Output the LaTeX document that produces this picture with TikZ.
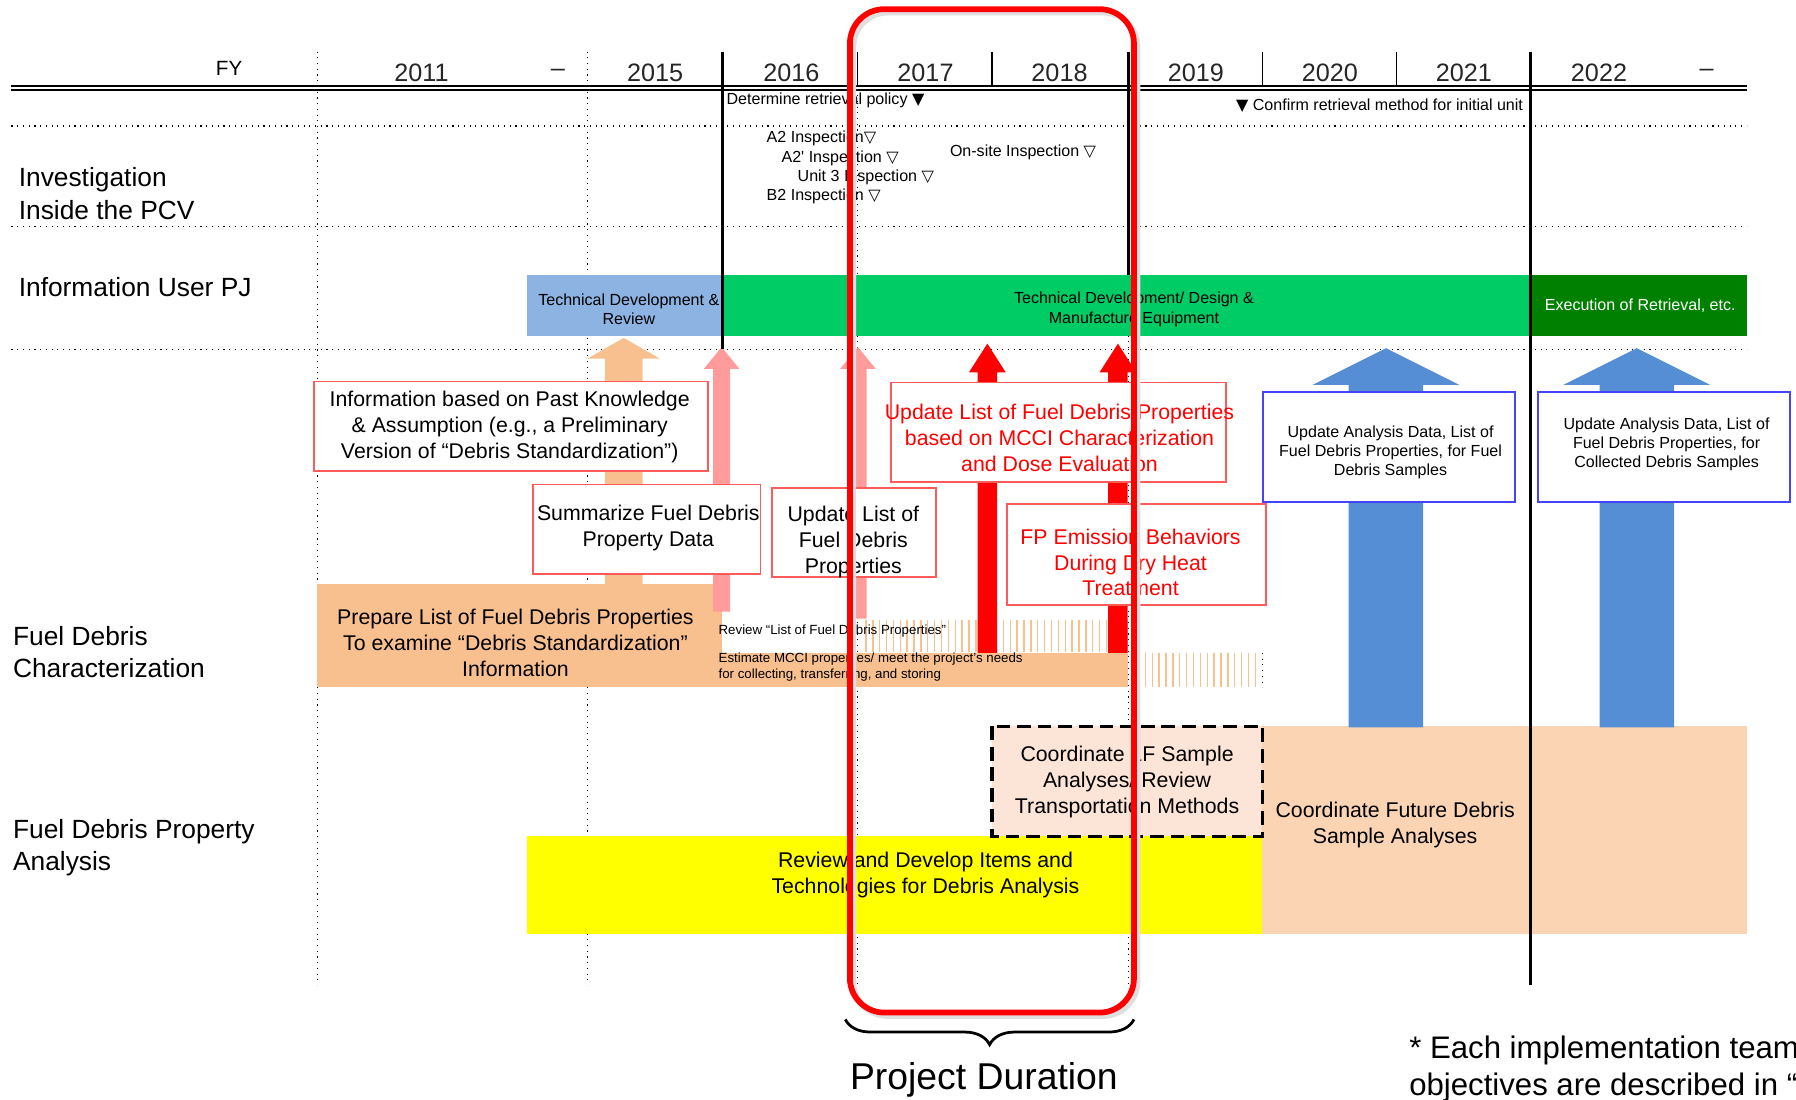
\documentclass[tikz,border=0pt]{standalone}
\usepackage{fontspec}
\setmainfont{Liberation Sans}
\newfontfamily\symfont{DejaVu Sans}
\usetikzlibrary{decorations.pathreplacing}

\definecolor{bandblue}{HTML}{8DB3E2}
\definecolor{bandgreen}{HTML}{00CC66}
\definecolor{banddark}{HTML}{008000}
\definecolor{peach}{HTML}{F9C08F}
\definecolor{peachlt}{HTML}{FBD4B4}
\definecolor{peachpale}{HTML}{FCE4D6}
\definecolor{pinkarr}{HTML}{FF9B9B}
\definecolor{bluearr}{HTML}{558ED5}
\definecolor{boxred}{HTML}{FF5B5B}
\definecolor{boxblue}{HTML}{4444FF}
\definecolor{yelband}{HTML}{FFFF00}

% upward block arrow: colour, x, tip y, head base y, bottom y, half shaft, half head
\newcommand{\blockup}[7]{%
  \fill[#1] (#2,#3) -- ({#2+#7},#4) -- ({#2+#6},#4) -- ({#2+#6},#5)
    -- ({#2-#6},#5) -- ({#2-#6},#4) -- ({#2-#7},#4) -- cycle;}

\begin{document}
\begin{tikzpicture}[x=0.5pt,y=-0.5pt,font=\fontsize{9.3}{11.3}\selectfont]
% Roadmap chart, laid out on a 1568 x 960 grid with y running downwards.
\useasboundingbox (0,0) rectangle (1568,960);

\tikzset{
  dots/.style={black,dotted,line width=0.5pt},
  fyline/.style={black,line width=1.2pt},
  fythin/.style={black,line width=0.5pt},
  year/.style={font=\fontsize{11}{13}\selectfont,text=black!85,inner sep=0pt},
  rowlab/.style={font=\fontsize{11.5}{14}\selectfont,anchor=west,align=left,inner sep=0pt},
  smalltxt/.style={font=\fontsize{7}{8.4}\selectfont,inner sep=0pt},
  notetxt/.style={font=\fontsize{5.8}{7}\selectfont,inner sep=0pt,anchor=west,align=left},
  txt/.style={align=center,inner sep=0pt},
  redbox/.style={draw=boxred,line width=0.8pt,fill=white},
  bluebox/.style={draw=boxblue,line width=0.8pt,fill=white},
  stripe/.style={draw=peach,line width=0.6pt},
  dashbox/.style={draw=black,line width=1.4pt,dash pattern=on 6pt off 3pt,fill=peachpale}
}

% Dotted grid.
\foreach \x in {277,513}{
  \draw[dots] (\x,45) -- (\x,860);
}
\draw[dots] (749,78) -- (749,860);
\draw[dots] (985,293) -- (985,860);
\foreach \y in {110,198,305}{
  \draw[dots] (10,\y) -- (1525,\y);
}

% Fiscal year header.
\draw[black,line width=0.8pt] (10,75) -- (1525,75);
\draw[black,line width=0.8pt] (10,78.5) -- (1525,78.5);
\foreach \x in {749,866,1102,1219}{
  \draw[fythin] (\x,45) -- (\x,75);
}
\node[font=\fontsize{9}{11}\selectfont,inner sep=0pt] (fy) at (200,60) {FY};
\foreach \x/\lab in {368/2011,487/\textendash,572/2015,691/2016,808/2017,925/2018,
  1044/2019,1161/2020,1278/2021,1396/2022,1490/\textendash}{
  \node[year] (yr\x) at (\x,64) {\lab};
}

% Milestones and inspections.
\node[smalltxt,anchor=west] (pol) at (634,88) {Determine retrieval policy {\symfont ▼}};
\node[smalltxt,anchor=east] (conf) at (1330,92) {{\symfont ▼} Confirm retrieval method for initial unit};
\node[smalltxt,anchor=west] (insa) at (669,121) {A2 Inspection{\symfont ▽}};
\node[smalltxt,anchor=west] (insb) at (682,138) {A2\textquotesingle{} Inspection {\symfont ▽}};
\node[smalltxt,anchor=west] (insc) at (696,155) {Unit 3 Inspection {\symfont ▽}};
\node[smalltxt,anchor=west] (insd) at (669,171) {B2 Inspection {\symfont ▽}};
\node[smalltxt,anchor=west] (onsite) at (829,133) {On-site Inspection {\symfont ▽}};

% Information user bands.
\fill[bandblue] (460,240) rectangle (631,293);
\fill[bandgreen] (631,240) rectangle (1336,293);
\fill[banddark] (1336,240) rectangle (1525,293);
\node[smalltxt,txt] (tdr) at (549,270) {Technical Development \&\\Review};
\node[smalltxt,txt] (tdd) at (990,270) {Technical Development/ Design \&\\Manufacture Equipment};
\node[smalltxt,txt,text=white] (exe) at (1432,267) {Execution of Retrieval, etc.};

% Characterization strips.
\fill[peach] (277,510) rectangle (630,600);
\fill[peach] (630,570) rectangle (985,600);
\foreach \x in {756,762,...,984}{
  \draw[stripe] (\x,541) -- (\x,569);
}
\foreach \x in {988,994,...,1100}{
  \draw[stripe] (\x,570) -- (\x,600);
}
\draw[dots] (1102,570) -- (1102,600);

% Analysis areas.
\fill[peachlt] (1102,634) rectangle (1525,815);
\fill[yelband] (460,730) rectangle (1102,815);
\draw[dashbox] (866,634) rectangle (1102,730);

% Block arrows.
\blockup{peach}{544.5}{295}{313}{510}{16.5}{31.5}
\blockup{pinkarr}{630}{303}{322}{534}{7.5}{15.5}
\blockup{pinkarr}{749}{303}{322}{540}{7.5}{15.5}
\blockup{red}{862}{300}{325}{570}{8.5}{16}
\blockup{red}{976}{300}{325}{570}{8.5}{16}
\blockup{bluearr}{1210}{304}{336}{635}{32.5}{64}
\blockup{bluearr}{1429}{304}{336}{635}{32.5}{64}

% Task boxes.
\draw[redbox] (274,333) rectangle (618,411);
\node[txt] (past) at (445,373) {Information based on Past Knowledge\\\& Assumption (e.g., a Preliminary\\Version of “Debris Standardization”)};
\draw[redbox] (465,423) rectangle (664,501);
\node[txt] (summ) at (566,461) {Summarize Fuel Debris\\Property Data};
\draw[redbox] (674,426) rectangle (817,504);
\node[txt] (updl) at (745,473) {Update List of\\Fuel Debris\\Properties};
\draw[redbox] (778,334) rectangle (1070,421);
\node[txt,text=red] (mcci) at (925,382) {Update List of Fuel Debris Properties\\based on MCCI Characterization\\and Dose Evaluation};
\draw[redbox] (879,440) rectangle (1105,528);
\node[txt,text=red] (fpem) at (987,491) {FP Emission Behaviors\\During Dry Heat\\Treatment};
\draw[bluebox] (1103,342) rectangle (1323,438);
\node[txt,smalltxt] (upda) at (1214,395) {Update Analysis Data, List of\\Fuel Debris Properties, for Fuel\\Debris Samples};
\draw[bluebox] (1343,342) rectangle (1563,438);
\node[txt,smalltxt] (updb) at (1455,388) {Update Analysis Data, List of\\Fuel Debris Properties, for\\Collected Debris Samples};

% Strip and area texts.
\node[txt] (prep) at (450,561) {Prepare List of Fuel Debris Properties\\To examine “Debris Standardization”\\Information};
\node[notetxt] (rev) at (627,551) {Review “List of Fuel Debris Properties”};
\node[notetxt] (est) at (627,582) {Estimate MCCI properties/ meet the project’s needs\\for collecting, transferring, and storing};
\node[txt] (coord) at (984,683) {Coordinate 1F Sample\\Analyses/ Review\\Transportation Methods};
\node[txt] (future) at (1218,720) {Coordinate Future Debris\\Sample Analyses};
\node[txt] (devel) at (808,764) {Review and Develop Items and\\Technologies for Debris Analysis};

% Solid year dividers.
\draw[fyline] (631,45) -- (631,305);
\draw[fyline] (985,45) -- (985,240);
\draw[fyline] (1336,45) -- (1336,860);

% Row labels.
\node[rowlab] (rinv) at (16,169) {Investigation\\Inside the PCV};
\node[rowlab] (rusr) at (16,251) {Information User PJ};
\node[rowlab] (rchr) at (11,569) {Fuel Debris\\Characterization};
\node[rowlab] (rana) at (11,740) {Fuel Debris Property\\Analysis};

% Project duration frame and brace.
\draw[gray!25,line width=2.5pt,rounded corners=15pt] (745,11) rectangle (993,887);
\draw[red,line width=2.5pt,rounded corners=15pt] (742,8) rectangle (990,884);
\coordinate (pdl) at (738,890);
\coordinate (pdr) at (990,890);
\draw[line width=1.2pt,decorate,decoration={brace,amplitude=11pt}] (pdr) -- (pdl);
\node[font=\fontsize{16.3}{19}\selectfont,inner sep=0pt] (pdur) at (859,943) {Project Duration};

% Footnote, cut by the page edge.
\begin{scope}
\clip (0,0) rectangle (1568,960);
\node[font=\fontsize{13.6}{16}\selectfont,anchor=west,align=left,inner sep=0pt] (foot) at (1230,933)
  {* Each implementation team’s\\objectives are described in “};
\end{scope}
\end{tikzpicture}
\end{document}
